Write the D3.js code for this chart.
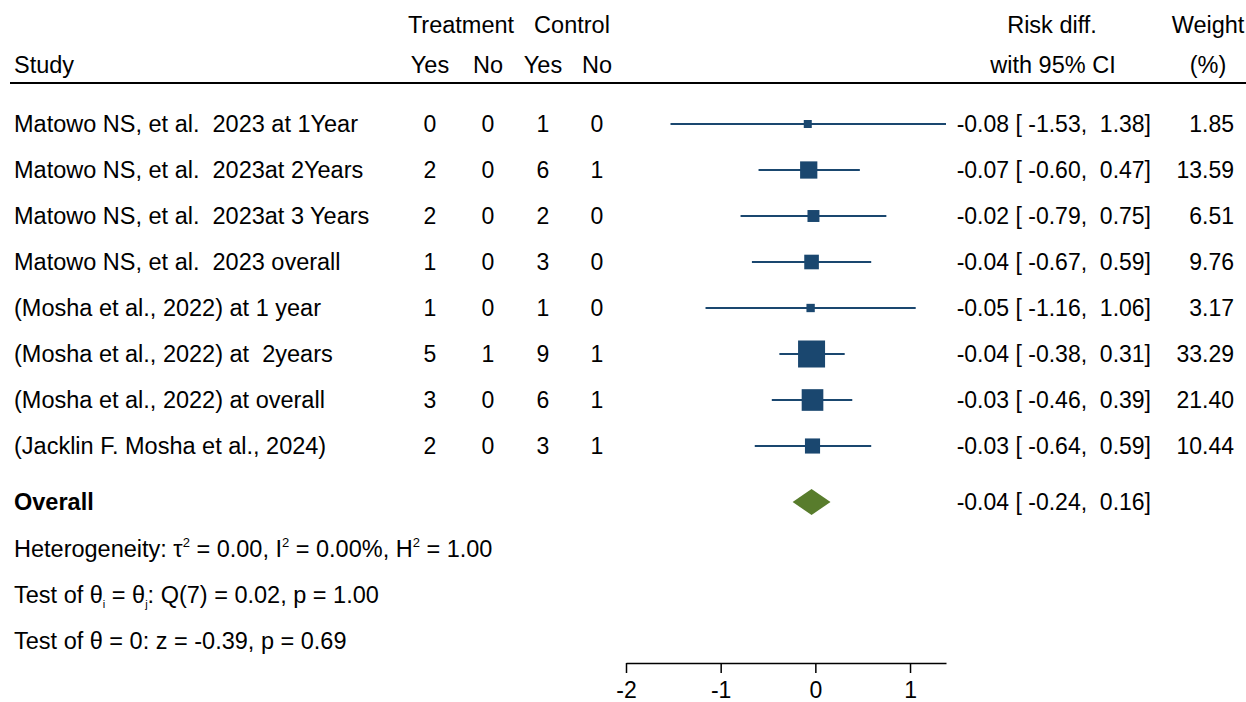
<!DOCTYPE html>
<html>
<head>
<meta charset="utf-8">
<script src="https://cdn.jsdelivr.net/npm/d3@7"></script>
<style>
  body { margin: 0; background: white; }
  svg text { font-family: "Liberation Sans", Arial, sans-serif; fill: #000; white-space: pre; }
</style>
</head>
<body>
<div id="chart"></div>
<script>
var width = 1246;
var height = 702;

// data
var studies = [
    "Matowo NS, et al.  2023 at 1Year",
    "Matowo NS, et al.  2023at 2Years",
    "Matowo NS, et al.  2023at 3 Years",
    "Matowo NS, et al.  2023 overall",
    "(Mosha et al., 2022) at 1 year",
    "(Mosha et al., 2022) at  2years",
    "(Mosha et al., 2022) at overall",
    "(Jacklin F. Mosha et al., 2024)"
];
var trtYes = [0, 2, 2, 1, 1, 5, 3, 2];
var trtNo  = [0, 0, 0, 0, 0, 1, 0, 0];
var ctlYes = [1, 6, 2, 3, 1, 9, 6, 3];
var ctlNo  = [0, 1, 0, 0, 0, 1, 1, 1];
var riskDiff = [-0.08, -0.07, -0.02, -0.04, -0.05, -0.04, -0.03, -0.03];
var ciLow    = [-1.53, -0.60, -0.79, -0.67, -1.16, -0.38, -0.46, -0.64];
var ciHigh   = [ 1.38,  0.47,  0.75,  0.59,  1.06,  0.31,  0.39,  0.59];
var weights  = [1.85, 13.59, 6.51, 9.76, 3.17, 33.29, 21.40, 10.44];
var overall = [-0.04, -0.24, 0.16];
var xTicks = [-2, -1, 0, 1];

var navy = "#1a476f";
var green = "#587c2c";
var fs = 23.5;   // labels
var fn = 23;     // numbers

var svg = d3.select("#chart")
            .append("svg")
            .attr("width", width)
            .attr("height", height);

var x = d3.scaleLinear().domain([-2, 1.38]).range([626, 946]);
var rowY = d3.scaleLinear().domain([0, 1]).range([124, 170]);
var side = d3.scaleSqrt().domain([0, 33.29]).range([0, 27]);
var loc = d3.formatLocale({decimal: ".", thousands: ",", grouping: [3], currency: ["", ""], minus: "-"});
var f2 = loc.format(".2f");

function txt(s, tx, ty, anchor, size) {
    return svg.append("text")
        .text(s)
        .attr("x", tx)
        .attr("y", ty)
        .attr("dy", "0.36em")
        .attr("text-anchor", anchor || "start")
        .style("font-size", (size || fs) + "px");
}

// header
txt("Treatment", 461, 25, "middle");
txt("Control", 572, 25, "middle");
txt("Risk diff.", 1052, 25, "middle");
txt("Weight", 1208, 25, "middle");
txt("Study", 14, 65);
txt("Yes", 430, 65, "middle");
txt("No", 488, 65, "middle");
txt("Yes", 543, 65, "middle");
txt("No", 597, 65, "middle");
txt("with 95% CI", 1053, 65, "middle");
txt("(%)", 1208, 65, "middle");

svg.append("line")
    .attr("x1", 10).attr("x2", 1246)
    .attr("y1", 83).attr("y2", 83)
    .attr("stroke", "#000")
    .attr("stroke-width", 2);

// study rows
studies.forEach(function(s, i) {
    var y = rowY(i);
    txt(s, 14, y);
    txt(String(trtYes[i]), 430, y, "middle", fn);
    txt(String(trtNo[i]), 488, y, "middle", fn);
    txt(String(ctlYes[i]), 543, y, "middle", fn);
    txt(String(ctlNo[i]), 597, y, "middle", fn);
    txt(f2(riskDiff[i]) + " [ " + f2(ciLow[i]) + ",  " + f2(ciHigh[i]) + "]", 1151, y, "end", fn);
    txt(f2(weights[i]), 1234, y, "end", fn);
});

svg.selectAll(".ci")
    .data(studies)
    .enter()
    .append("line")
    .attr("class", "ci")
    .attr("x1", (d, i) => x(ciLow[i]))
    .attr("x2", (d, i) => x(ciHigh[i]))
    .attr("y1", (d, i) => rowY(i))
    .attr("y2", (d, i) => rowY(i))
    .attr("stroke", navy)
    .attr("stroke-width", 2);

svg.selectAll(".box")
    .data(studies)
    .enter()
    .append("rect")
    .attr("class", "box")
    .attr("x", (d, i) => x(riskDiff[i]) - Math.max(side(weights[i]), 8) / 2)
    .attr("y", (d, i) => rowY(i) - Math.max(side(weights[i]), 8) / 2)
    .attr("width", (d, i) => Math.max(side(weights[i]), 8))
    .attr("height", (d, i) => Math.max(side(weights[i]), 8))
    .attr("fill", navy);

// overall
var oy = 502;
svg.append("text")
    .text("Overall")
    .attr("x", 14).attr("y", oy).attr("dy", "0.36em")
    .style("font-size", fs + "px")
    .style("font-weight", "bold");
txt(f2(overall[0]) + " [ " + f2(overall[1]) + ",  " + f2(overall[2]) + "]", 1151, oy, "end", fn);

svg.append("path")
    .attr("d", "M" + x(overall[1]) + "," + oy +
               "L" + x(overall[0]) + "," + (oy - 13) +
               "L" + x(overall[2]) + "," + oy +
               "L" + x(overall[0]) + "," + (oy + 13) + "Z")
    .attr("fill", green);

// heterogeneity + tests
function sup(t, s, rest) {
    t.append("tspan").text(s).style("font-size", "13px").attr("dy", -10);
    t.append("tspan").text(rest).style("font-size", fs + "px").attr("dy", 10);
}
var h = txt("Heterogeneity: \u03c4", 14, 549);
sup(h, "2", " = 0.00, I");
sup(h, "2", " = 0.00%, H");
sup(h, "2", " = 1.00");

function sub(t, s, rest) {
    t.append("tspan").text(s).style("font-size", "11px").attr("dy", 5);
    t.append("tspan").text(rest).style("font-size", fs + "px").attr("dy", -5);
}
var t = txt("Test of \u03b8", 14, 595);
sub(t, "i", " = \u03b8");
sub(t, "j", ": Q(7) = 0.02, p = 1.00");

txt("Test of \u03b8 = 0: z = -0.39, p = 0.69", 14, 641);

// axis
var axis = svg.append("g")
    .attr("transform", "translate(0,663)")
    .call(d3.axisBottom(x).tickValues(xTicks).tickSize(10).tickSizeOuter(0).tickPadding(9).tickFormat(loc.format("d")));
axis.select(".domain").attr("stroke", "#000").attr("stroke-width", 1.5);
axis.selectAll(".tick line").attr("stroke", "#000").attr("stroke-width", 1.5);
axis.selectAll(".tick text")
    .style("font-size", fn + "px")
    .style("font-family", "'Liberation Sans', Arial, sans-serif")
    .attr("fill", "#000");
</script>
</body>
</html>
